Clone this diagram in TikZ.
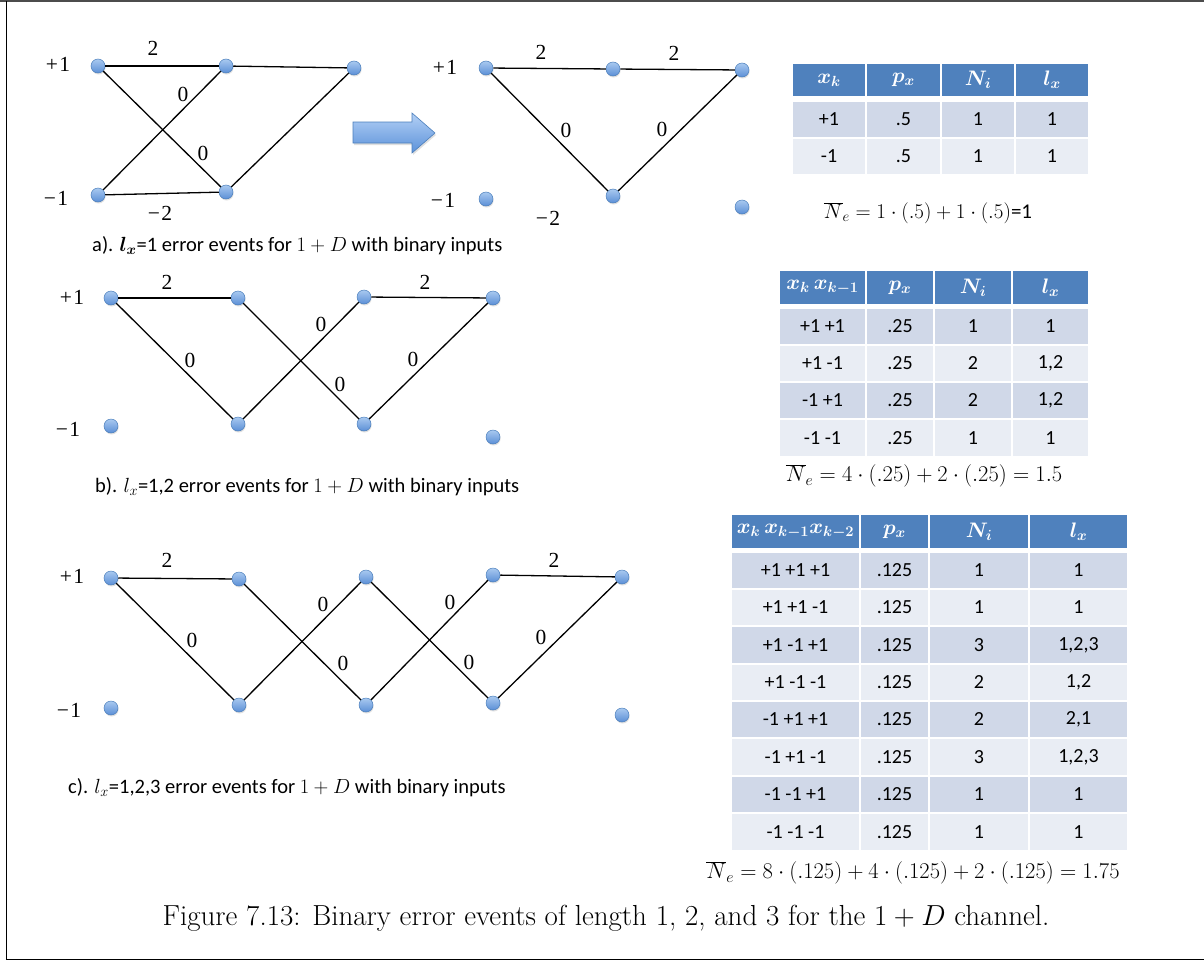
\RequirePackage{fix-cm}
\documentclass[tikz,border=0pt]{standalone}
\usepackage{fontspec}
\newfontfamily\calib{Carlito}
\newfontfamily\lblfont{Liberation Serif}
\usetikzlibrary{shadows}
\definecolor{hdr}{HTML}{4F81BD}
\definecolor{rowA}{HTML}{D0D8E8}
\definecolor{rowB}{HTML}{E9EDF4}
\definecolor{dotTop}{HTML}{A9C9F0}
\definecolor{dotBot}{HTML}{5B8FD6}
\definecolor{dotLine}{HTML}{4A7EBB}
\definecolor{arrTop}{HTML}{B3D0F5}
\definecolor{arrBot}{HTML}{5C92DA}
\newcommand\tcell[8]{\node[tcellsty, fill=#6, minimum width={#3-#2-2}, minimum height={#5-#4-2}, #7] (#1) at ({(#2+#3)/2},{(#4+#5)/2}) {#8};}
\newcommand\mns{−\kern1.5pt}
\newcommand\pls{+\kern1.5pt}
\begin{document}
\begin{tikzpicture}[x=1pt,y=-1pt,
  dot/.style={circle,minimum size=14pt,inner sep=0pt,top color=dotTop,bottom color=dotBot,draw=dotLine,line width=0.5pt,
    drop shadow={opacity=0.25,shadow xshift=0.6pt,shadow yshift=-1.5pt}},
  edge/.style={line width=1.3pt,black},
  lab/.style={inner sep=0pt,font=\lblfont\fontsize{21.5}{25}\selectfont},
  captxt/.style={inner sep=0pt,anchor=west,font=\calib\fontsize{20.5}{24}\selectfont},
  tcellsty/.style={inner sep=0pt,draw=none,font=\calib\fontsize{20}{24}\selectfont},
  hd/.style={text=white,font=\fontsize{21}{24}\selectfont\boldmath},
  frm/.style={inner sep=0pt,font=\fontsize{22.5}{26}\selectfont}
]
\useasboundingbox (0,0) rectangle (1204,961);
% frame
\draw[line width=2pt,black!70] (0,1) -- (1204,1);
\draw[line width=1.5pt] (6.5,1) -- (6.5,959.5) -- (1204,959.5);

% ---------- panel a, left trellis
\node[dot] (a1) at (98,66) {};
\node[dot] (a2) at (226,66) {};
\node[dot] (a3) at (354,68) {};
\node[dot] (a4) at (98,195) {};
\node[dot] (a5) at (226,192) {};
\draw[edge] (a1) -- (a2);
\draw[edge] (a1) -- (a5);
\draw[edge] (a4) -- (a2);
\draw[edge] (a4) -- (a5);
\draw[edge] (a2) -- (a3);
\draw[edge] (a5) -- (a3);
\node[lab] (al1) at (153,48) {2};
\node[lab] (al2) at (183,94) {0};
\node[lab] (al3) at (203,153) {0};
\node[lab] (al4) at (160,213) {\mns 2};
\node[lab] (ap) at (58,64) {\pls 1};
\node[lab] (am) at (56,198) {\mns 1};

% block arrow
\path[top color=arrTop,bottom color=arrBot,draw=dotLine,line width=0.6pt,
  drop shadow={opacity=0.25,shadow xshift=1pt,shadow yshift=-2pt}]
  (353,122) -- (412,122) -- (412,113) -- (435,133) -- (412,153) -- (412,143) -- (353,143) -- cycle;

% ---------- panel a, right trellis
\node[dot] (r1) at (486,68) {};
\node[dot] (r2) at (613,69) {};
\node[dot] (r3) at (742,70) {};
\node[dot] (r4) at (486,199) {};
\node[dot] (r5) at (613,196) {};
\node[dot] (r6) at (742,207) {};
\draw[edge] (r1) -- (r2);
\draw[edge] (r2) -- (r3);
\draw[edge] (r1) -- (r5);
\draw[edge] (r5) -- (r3);
\node[lab] (rl1) at (541,52) {2};
\node[lab] (rl2) at (674,53) {2};
\node[lab] (rl3) at (566,130) {0};
\node[lab] (rl4) at (662,129) {0};
\node[lab] (rl5) at (548,218) {\mns 2};
\node[lab] (rp) at (445,67) {\pls 1};
\node[lab] (rm) at (443,200) {\mns 1};

\node[captxt] (capa) at (92,246) {a). {\boldmath$l_x$}=1 error events for $1+D$ with binary inputs};

% ---------- table a
\tcell{ta-h1}{792}{866}{63}{97}{hdr}{hd}{$x_k$}
\tcell{ta-h2}{866}{941}{63}{97}{hdr}{hd}{$p_x$}
\tcell{ta-h3}{941}{1015}{63}{97}{hdr}{hd}{$N_i$}
\tcell{ta-h4}{1015}{1089}{63}{97}{hdr}{hd}{$l_x$}
\foreach \r/\ya/\yb/\fc/\ta/\tb/\tc/\td in {1/101/138/rowA/+1/.5/1/1, 2/138/175/rowB/-1/.5/1/1}{
  \tcell{ta-\r-1}{792}{866}{\ya}{\yb}{\fc}{}{\ta}
  \tcell{ta-\r-2}{866}{941}{\ya}{\yb}{\fc}{}{\tb}
  \tcell{ta-\r-3}{941}{1015}{\ya}{\yb}{\fc}{}{\tc}
  \tcell{ta-\r-4}{1015}{1089}{\ya}{\yb}{\fc}{}{\td}
}
\node[frm,font=\fontsize{21}{24}\selectfont] (fa) at (928,213) {$\overline{N}_e=1\cdot(.5)+1\cdot(.5)${\calib=1}};

% ---------- panel b
\node[dot] (b1) at (111,298) {};
\node[dot] (b2) at (238,298) {};
\node[dot] (b3) at (364,297) {};
\node[dot] (b4) at (493,298) {};
\node[dot] (b5) at (111,426) {};
\node[dot] (b6) at (238,424) {};
\node[dot] (b7) at (364,424) {};
\node[dot] (b8) at (493,437) {};
\draw[edge] (b1) -- (b2);
\draw[edge] (b1) -- (b6);
\draw[edge] (b2) -- (b7);
\draw[edge] (b6) -- (b3);
\draw[edge] (b3) -- (b4);
\draw[edge] (b7) -- (b4);
\node[lab] (bl1) at (167,282) {2};
\node[lab] (bl2) at (425,282) {2};
\node[lab] (bl3) at (190,360) {0};
\node[lab] (bl4) at (321,324) {0};
\node[lab] (bl5) at (340,384) {0};
\node[lab] (bl6) at (413,359) {0};
\node[lab] (bp) at (72,297) {\pls 1};
\node[lab] (bm) at (68,429) {\mns 1};
\node[captxt] (capb) at (95,487) {b). $l_x$=1,2 error events for $1+D$ with binary inputs};

% ---------- table b
\tcell{tb-h1}{779}{866}{270}{305}{hdr}{hd}{$x_k\,x_{k-1}$}
\tcell{tb-h2}{866}{934}{270}{305}{hdr}{hd}{$p_x$}
\tcell{tb-h3}{934}{1012}{270}{305}{hdr}{hd}{$N_i$}
\tcell{tb-h4}{1012}{1089}{270}{305}{hdr}{hd}{$l_x$}
\foreach \r/\ya/\yb/\fc/\ta/\tb/\tc/\td in {
  1/308/345/rowA/{+1 +1}/.25/1/1,
  2/345/382/rowB/{+1 -1}/.25/2/{1,2},
  3/382/419/rowA/{-1 +1}/.25/2/{1,2},
  4/419/457/rowB/{-1 -1}/.25/1/1}{
  \tcell{tb-\r-1}{779}{866}{\ya}{\yb}{\fc}{}{\ta}
  \tcell{tb-\r-2}{866}{934}{\ya}{\yb}{\fc}{}{\tb}
  \tcell{tb-\r-3}{934}{1012}{\ya}{\yb}{\fc}{}{\tc}
  \tcell{tb-\r-4}{1012}{1089}{\ya}{\yb}{\fc}{}{\td}
}
\node[frm] (fb) at (924,476) {$\overline{N}_e=4\cdot(.25)+2\cdot(.25)=1.5$};

% ---------- panel c
\node[dot] (c1) at (111,578) {};
\node[dot] (c2) at (239,579) {};
\node[dot] (c3) at (366,577) {};
\node[dot] (c4) at (493,575) {};
\node[dot] (c5) at (622,577) {};
\node[dot] (c6) at (111,708) {};
\node[dot] (c7) at (239,705) {};
\node[dot] (c8) at (366,705) {};
\node[dot] (c9) at (493,703) {};
\node[dot] (c10) at (622,715) {};
\draw[edge] (c1) -- (c2);
\draw[edge] (c1) -- (c7);
\draw[edge] (c2) -- (c8);
\draw[edge] (c7) -- (c3);
\draw[edge] (c3) -- (c9);
\draw[edge] (c8) -- (c4);
\draw[edge] (c4) -- (c5);
\draw[edge] (c9) -- (c5);
\node[lab] (cl1) at (167,560) {2};
\node[lab] (cl2) at (554,560) {2};
\node[lab] (cl3) at (192,640) {0};
\node[lab] (cl4) at (323,604) {0};
\node[lab] (cl5) at (343,663) {0};
\node[lab] (cl6) at (450,602) {0};
\node[lab] (cl7) at (469,662) {0};
\node[lab] (cl8) at (541,637) {0};
\node[lab] (cp) at (72,576) {\pls 1};
\node[lab] (cm) at (69,710) {\mns 1};
\node[captxt] (capc) at (68,788) {c). $l_x$=1,2,3 error events for $1+D$ with binary inputs};

% ---------- table c
\tcell{tc-h1}{731}{860}{514}{549}{hdr}{hd}{$x_k\,x_{k-1}x_{k-2}$}
\tcell{tc-h2}{860}{929}{514}{549}{hdr}{hd}{$p_x$}
\tcell{tc-h3}{929}{1029}{514}{549}{hdr}{hd}{$N_i$}
\tcell{tc-h4}{1029}{1128}{514}{549}{hdr}{hd}{$l_x$}
\foreach \r/\ya/\yb/\fc/\ta/\tb/\tc/\td in {
  1/552/589/rowA/{+1 +1 +1}/.125/1/1,
  2/589/626/rowB/{+1 +1 -1}/.125/1/1,
  3/626/664/rowA/{+1 -1 +1}/.125/3/{1,2,3},
  4/664/701/rowB/{+1 -1 -1}/.125/2/{1,2},
  5/701/738/rowA/{-1 +1 +1}/.125/2/{2,1},
  6/738/776/rowB/{-1 +1 -1}/.125/3/{1,2,3},
  7/776/813/rowA/{-1 -1 +1}/.125/1/1,
  8/813/851/rowB/{-1 -1 -1}/.125/1/1}{
  \tcell{tc-\r-1}{731}{860}{\ya}{\yb}{\fc}{}{\ta}
  \tcell{tc-\r-2}{860}{929}{\ya}{\yb}{\fc}{}{\tb}
  \tcell{tc-\r-3}{929}{1029}{\ya}{\yb}{\fc}{}{\tc}
  \tcell{tc-\r-4}{1029}{1128}{\ya}{\yb}{\fc}{}{\td}
}
\node[frm] (fc) at (913,873) {$\overline{N}_e=8\cdot(.125)+4\cdot(.125)+2\cdot(.125)=1.75$};

% ---------- caption
\node[inner sep=0pt,font=\fontsize{29}{34}\selectfont] (fig) at (606,918) {Figure 7.13: Binary error events of length 1, 2, and 3 for the $1+D$ channel.};
\end{tikzpicture}
\end{document}
